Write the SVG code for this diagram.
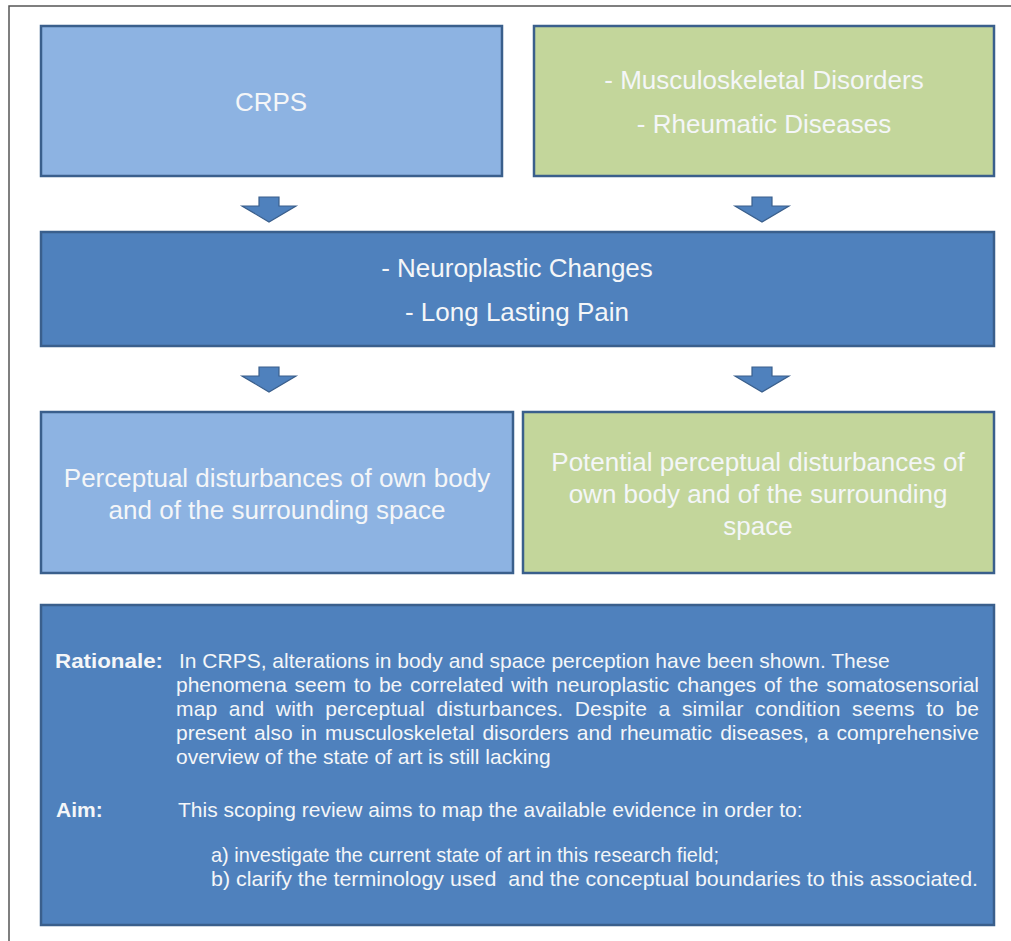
<svg xmlns="http://www.w3.org/2000/svg" width="1011" height="941" viewBox="0 0 1011 941">
<style>
.box{stroke:#3A5F8C;stroke-width:2.5}
.lb{fill:#8DB3E2}
.gr{fill:#C3D69B}
.db{fill:#4F81BD}
.t{font-family:"Liberation Sans",Arial,sans-serif;font-size:26px;fill:#F4F6F8;text-anchor:middle}
.s{font-family:"Liberation Sans",Arial,sans-serif;font-size:21px;fill:#F4F6F8}
.b{font-weight:bold}
.arr{fill:#4F81BD;stroke:#3A5F8C;stroke-width:1.2}
</style>
<defs>
<path id="ar" d="M-10,0 H10 V9 H27 L0,25 L-27,9 H-10 Z"/>
</defs>
<rect width="1011" height="941" fill="#FFFFFF"/>
<path d="M9,941 V6 H1011" fill="none" stroke="#555" stroke-width="1.5"/>

<g id="crps">
<rect class="box lb" x="41" y="26" width="461" height="150"/>
<text class="t" x="271" y="111">CRPS</text>
</g>
<g id="msk">
<rect class="box gr" x="534" y="26" width="460" height="150"/>
<text class="t" x="764" y="89">- Musculoskeletal Disorders</text>
<text class="t" x="764" y="133">- Rheumatic Diseases</text>
</g>
<g id="neuro">
<rect class="box db" x="41" y="232" width="953" height="114"/>
<text class="t" x="517" y="277">- Neuroplastic Changes</text>
<text class="t" x="517" y="321">- Long Lasting Pain</text>
</g>
<g id="perc">
<rect class="box lb" x="41" y="412" width="472" height="161"/>
<text class="t" x="277" y="487">Perceptual disturbances of own body</text>
<text class="t" x="277" y="519">and of the surrounding space</text>
</g>
<g id="potential">
<rect class="box gr" x="523" y="412" width="471" height="161"/>
<text class="t" x="758" y="471">Potential perceptual disturbances of</text>
<text class="t" x="758" y="503">own body and of the surrounding</text>
<text class="t" x="758" y="535">space</text>
</g>
<g id="rationale">
<rect class="box db" x="41" y="605" width="953" height="320"/>
<text class="s b" x="55" y="668" textLength="108" lengthAdjust="spacingAndGlyphs">Rationale:</text>
<text class="s" x="179" y="668">In CRPS, alterations in body and space perception have been shown. These</text>
<text class="s" x="176" y="692" word-spacing="1.9" textLength="803" lengthAdjust="spacing">phenomena seem to be correlated with neuroplastic changes of the somatosensorial</text>
<text class="s" x="176" y="716" word-spacing="5.5" textLength="803" lengthAdjust="spacing">map and with perceptual disturbances. Despite a similar condition seems to be</text>
<text class="s" x="176" y="740" word-spacing="2.2" textLength="803" lengthAdjust="spacing">present also in musculoskeletal disorders and rheumatic diseases, a comprehensive</text>
<text class="s" x="176" y="764">overview of the state of art is still lacking</text>
<text class="s b" x="56" y="817">Aim:</text>
<text class="s" x="178" y="817">This scoping review aims to map the available evidence in order to:</text>
<text class="s" x="211" y="862" textLength="508" lengthAdjust="spacingAndGlyphs">a) investigate the current state of art in this research field;</text>
<text class="s" x="211" y="886" xml:space="preserve" textLength="767" lengthAdjust="spacingAndGlyphs">b) clarify the terminology used  and the conceptual boundaries to this associated.</text>
</g>
<g id="connectors">
<use href="#ar" class="arr" x="269" y="197"/>
<use href="#ar" class="arr" x="762" y="197"/>
<use href="#ar" class="arr" x="269" y="367"/>
<use href="#ar" class="arr" x="762" y="367"/>
</g>
</svg>
